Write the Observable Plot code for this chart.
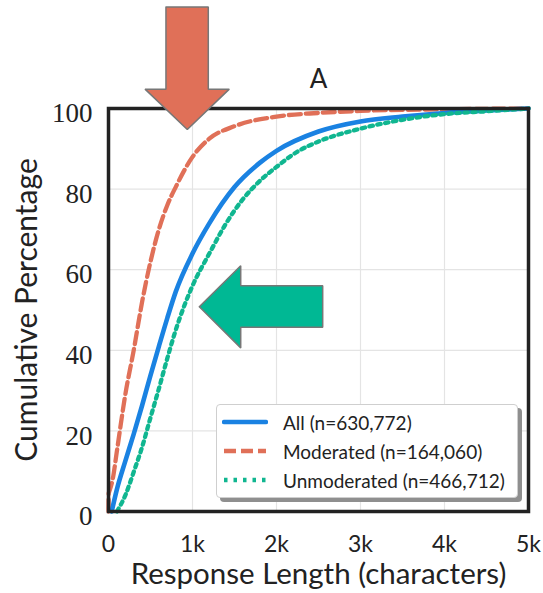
<!DOCTYPE html>
<html>
<head>
<meta charset="utf-8">
<script src="https://cdn.jsdelivr.net/npm/d3@7"></script>
<script src="https://cdn.jsdelivr.net/npm/@observablehq/plot@0.6"></script>
<style>
  html, body { margin: 0; padding: 0; background: #fff; }
  #wrap { position: relative; width: 543px; height: 593px; }
  #legend {
    position: absolute; left: 216px; top: 404px; width: 302px; height: 94px;
    box-sizing: border-box; background: #fff; border: 1.5px solid #cfcfcf; border-radius: 4px;
    box-shadow: 4px 4px 0 #8f8f8f; font-family: Lato, "Liberation Sans", sans-serif; font-size: 19px; color: #222;
  }
  .row { position: absolute; left: 5px; height: 26px; display: flex; align-items: center; }
  .row svg { margin-right: 15px; }
</style>
</head>
<body>
<div id="wrap"></div>
<script>
// ---- data ----
const seriesNames = ["All (n=630,772)", "Moderated (n=164,060)", "Unmoderated (n=466,712)"];
const allX = [38, 100, 200, 300, 400, 500, 600, 700, 800, 1000, 1200, 1500, 1800, 2000, 2500, 3000, 3500, 4000, 4500, 5000];
const allY = [0, 5.5, 12.5, 19.2, 26.3, 33.8, 41, 48, 54.5, 64, 71.5, 80.5, 86.5, 89.5, 94.3, 96.8, 98, 98.9, 99.5, 100];
const modX = [0, 2, 10, 50, 100, 200, 300, 400, 500, 600, 700, 800, 1000, 1200, 1500, 2000, 2500, 3000, 4000, 5000];
const modY = [0, 4.5, 5, 8, 15, 29, 40, 52, 62, 70, 76, 80.5, 88, 92.5, 95.6, 98, 98.9, 99.4, 99.8, 100];
const unmX = [100, 200, 300, 400, 500, 600, 700, 800, 1000, 1200, 1400, 1600, 1800, 2000, 2250, 2500, 3000, 3500, 4000, 4500, 5000];
const unmY = [0, 4, 9.8, 16, 23.3, 30.5, 38, 45, 56, 64, 71.5, 77.5, 82, 85.5, 89.3, 91.8, 95, 97.2, 98.6, 99.3, 100];
const xTicks = [0, 1000, 2000, 3000, 4000, 5000];
const xTickLabels = ["0", "1k", "2k", "3k", "4k", "5k"];
const yTicks = [0, 20, 40, 60, 80, 100];
// annotation arrows (data space: characters, percent)
const downArrowX = [684, 1188, 1188, 1438, 938, 435, 684, 684];
const downArrowY = [125.2, 125.2, 104.8, 104.8, 94.8, 104.8, 104.8, 125.2];
const leftArrowX = [1081, 1574, 1574, 2550, 2550, 1574, 1574, 1081];
const leftArrowY = [50.8, 61.0, 56.0, 56.0, 45.7, 45.7, 40.6, 50.8];

const colors = {all: "#1a82e2", mod: "#e07058", unm: "#10b690"};

const zip = (xs, ys) => xs.map((x, i) => ({x, y: ys[i]}));
const allData = zip(allX, allY);
const modData = zip(modX, modY);
const unmData = zip(unmX, unmY);
const downArrow = zip(downArrowX, downArrowY);
const leftArrow = zip(leftArrowX, leftArrowY);

const sans = "Lato, 'Liberation Sans', sans-serif";
const serif = "'Liberation Serif', 'DejaVu Serif', serif";

const chart = Plot.plot({
  width: 543, height: 593,
  marginLeft: 108, marginRight: 15, marginTop: 108, marginBottom: 82,
  style: {fontFamily: sans, background: "#fff", overflow: "visible"},
  x: {domain: [0, 5000]},
  y: {domain: [0, 100]},
  marks: [
    Plot.gridX(xTicks, {stroke: "#e4e4e4", strokeOpacity: 1, strokeWidth: 1.2}),
    Plot.gridY(yTicks, {stroke: "#e4e4e4", strokeOpacity: 1, strokeWidth: 1.2}),
    Plot.line(modData, {x: "x", y: "y", stroke: colors.mod, strokeWidth: 4.3, strokeDasharray: "12,5", curve: "monotone-x"}),
    Plot.line(allData, {x: "x", y: "y", stroke: colors.all, strokeWidth: 4.6, curve: "monotone-x"}),
    Plot.line(unmData, {x: "x", y: "y", stroke: colors.unm, strokeWidth: 4.3, strokeDasharray: "3.5,4.5", curve: "monotone-x"}),
    Plot.frame({stroke: "#222", strokeWidth: 3.5}),
    Plot.line(downArrow, {x: "x", y: "y", fill: colors.mod, stroke: "#777", strokeWidth: 1.5, strokeLinejoin: "miter"}),
    Plot.line(leftArrow, {x: "x", y: "y", fill: "#00b894", stroke: "#777", strokeWidth: 1.5, strokeLinejoin: "miter"}),
    Plot.axisX(xTicks, {tickSize: 0, tickPadding: 24, fontSize: 23, fontFamily: sans, fill: "#222",
      tickFormat: (d, i) => xTickLabels[i], label: null}),
    Plot.axisY(yTicks, {tickSize: 0, tickPadding: 16, fontSize: 27, fontFamily: serif, fill: "#222", dy: 5, label: null}),
    Plot.text(["Response Length (characters)"], {frameAnchor: "bottom", lineAnchor: "middle", textAnchor: "middle", dy: 63, fontSize: 29.5, fontFamily: sans, fill: "#222"}),
    Plot.text(["Cumulative Percentage"], {frameAnchor: "left", lineAnchor: "middle", textAnchor: "middle", dx: -81, rotate: -90, fontSize: 30, fontFamily: sans, fill: "#222"}),
    Plot.text(["A"], {frameAnchor: "top", lineAnchor: "middle", textAnchor: "middle", dy: -29, fontSize: 26, fontFamily: sans, fill: "#222"})
  ]
});

const wrap = document.getElementById("wrap");
wrap.appendChild(chart);

// legend (inside the frame)
const legend = document.createElement("div");
legend.id = "legend";
const entries = [
  {name: seriesNames[0], color: colors.all, dash: null, top: 4},
  {name: seriesNames[1], color: colors.mod, dash: "12,5", top: 33},
  {name: seriesNames[2], color: colors.unm, dash: "3.5,6", top: 62}
];
for (const e of entries) {
  const row = document.createElement("div");
  row.className = "row";
  row.style.top = e.top + "px";
  row.innerHTML = `<svg width="46" height="10"><line x1="2" x2="44" y1="5" y2="5" stroke="${e.color}" stroke-width="4.5" ${e.dash ? `stroke-dasharray="${e.dash}"` : 'stroke-linecap="round"'}/></svg><span>${e.name}</span>`;
  legend.appendChild(row);
}
wrap.appendChild(legend);
</script>
</body>
</html>
